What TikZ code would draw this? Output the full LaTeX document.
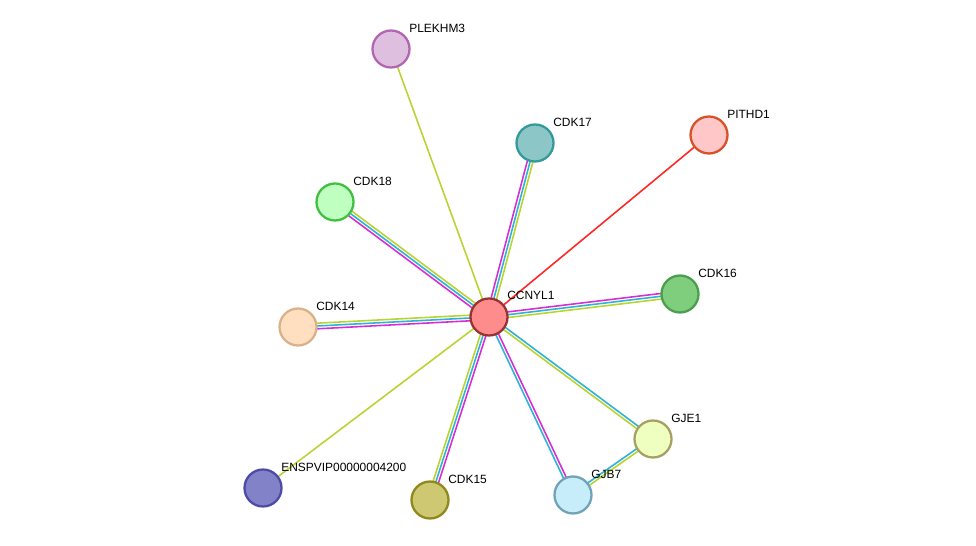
\documentclass[tikz,border=0pt]{standalone}
\usepackage{fontspec}
\setmainfont{Liberation Sans}
\usetikzlibrary{calc}
\definecolor{tm}{HTML}{B8D432}
\definecolor{db}{HTML}{2EB3D6}
\definecolor{ex}{HTML}{D62ED6}
\newcommand{\lane}[4]{\draw[#4,line width=0.9pt] ($(#1)!#3!90:(#2)$) -- ($(#2)!#3!-90:(#1)$);}
\tikzset{prot/.style={circle,minimum size=0.74cm,line width=1.3pt,inner sep=0pt},
lbl/.style={anchor=west,font=\fontsize{6.8}{8}\selectfont,inner sep=0pt}}
\begin{document}
\begin{tikzpicture}[x=0.02cm,y=-0.02cm]
\useasboundingbox (0,0) rectangle (976,546);
\coordinate (ccnyl1) at (489,317);
\coordinate (plekhm3) at (391,49);
\coordinate (cdk17) at (535,143);
\coordinate (pithd1) at (709,135);
\coordinate (cdk18) at (335,202);
\coordinate (cdk16) at (680,294);
\coordinate (cdk14) at (298,327);
\coordinate (gje1) at (653,439);
\coordinate (enspvip) at (263,488);
\coordinate (cdk15) at (430,500);
\coordinate (gjb7) at (573,495);
% edges
\foreach \p in {cdk17,cdk18,cdk16,cdk14,cdk15}{
  \lane{ccnyl1}{\p}{-1.6pt}{tm}
  \lane{ccnyl1}{\p}{0pt}{db}
  \lane{ccnyl1}{\p}{1.6pt}{ex}
}
\lane{ccnyl1}{plekhm3}{0pt}{tm}
\lane{ccnyl1}{enspvip}{0pt}{tm}
\lane{ccnyl1}{pithd1}{0pt}{red!85}
\lane{ccnyl1}{gje1}{-0.8pt}{tm}
\lane{ccnyl1}{gje1}{0.8pt}{db}
\lane{ccnyl1}{gjb7}{-0.8pt}{db}
\lane{ccnyl1}{gjb7}{0.8pt}{ex}
\lane{gjb7}{gje1}{-0.8pt}{tm}
\lane{gjb7}{gje1}{0.8pt}{db}
% proteins
\node[prot,fill=red!45,draw=red!50!black!80] (n1) at (ccnyl1) {};
\node[prot,fill=violet!25,draw=violet!60] (n2) at (plekhm3) {};
\node[prot,fill=teal!45,draw=teal!80] (n3) at (cdk17) {};
\node[prot,fill=red!22,draw=red!35!brown] (n4) at (pithd1) {};
\node[prot,fill=green!25,draw=green!50!gray] (n5) at (cdk18) {};
\node[prot,fill=green!45!gray!70,draw=green!45!black!70] (n6) at (cdk16) {};
\node[prot,fill=orange!25,draw=brown!60] (n7) at (cdk14) {};
\node[prot,fill=lime!25,draw=olive!50!gray!80] (n8) at (gje1) {};
\node[prot,fill=blue!40!gray!70,draw=blue!50!black!70] (n9) at (enspvip) {};
\node[prot,fill=olive!45,draw=olive!80!gray] (n10) at (cdk15) {};
\node[prot,fill=cyan!22,draw=cyan!40!gray] (n11) at (gjb7) {};
% labels
\node[lbl] at (507,295) {CCNYL1};
\node[lbl] at (409,28) {PLEKHM3};
\node[lbl] at (553,122) {CDK17};
\node[lbl] at (727,114) {PITHD1};
\node[lbl] at (353,181) {CDK18};
\node[lbl] at (698,273) {CDK16};
\node[lbl] at (316,306) {CDK14};
\node[lbl] at (671,418) {GJE1};
\node[lbl] at (281,467) {ENSPVIP00000004200};
\node[lbl] at (448,479) {CDK15};
\node[lbl] at (591,474) {GJB7};
\end{tikzpicture}
\end{document}
